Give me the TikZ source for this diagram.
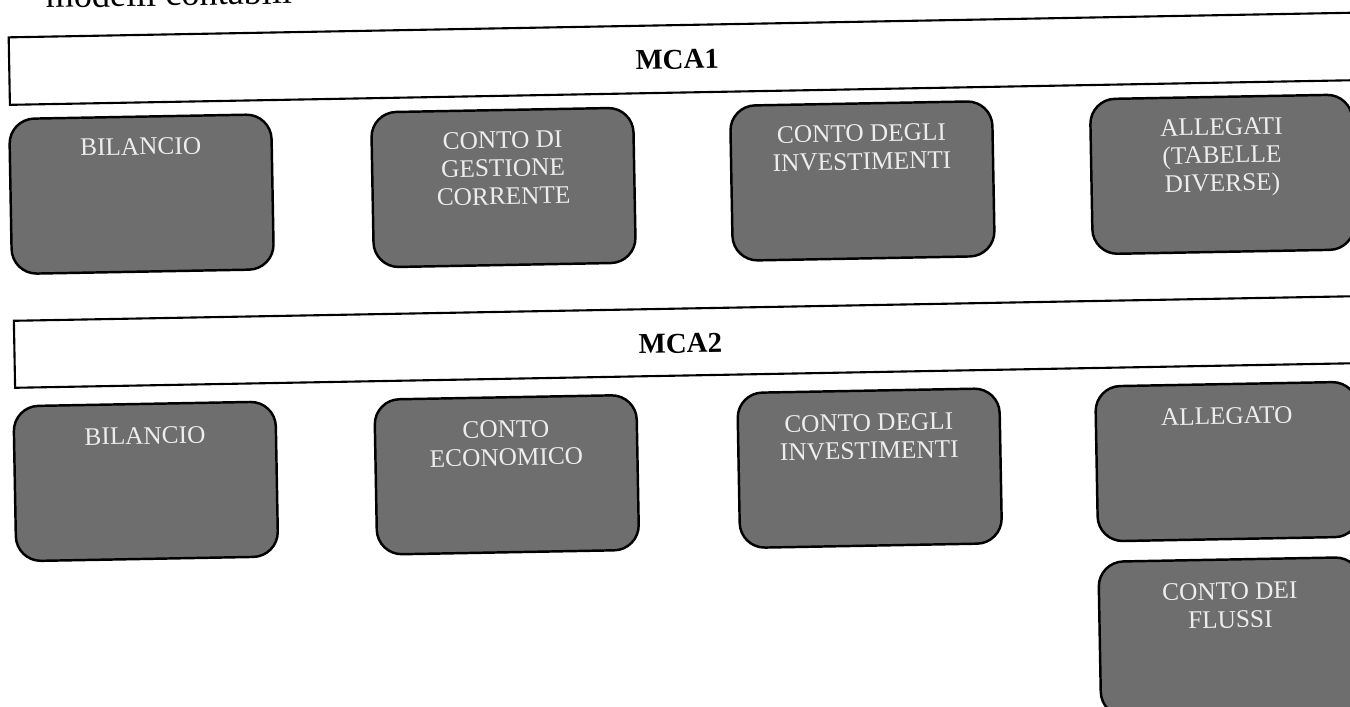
\documentclass[tikz,border=0pt]{standalone}
\usepackage{fontspec}
\setmainfont{Liberation Serif}
\usetikzlibrary{positioning}

\tikzset{
  conto/.style={draw=black, line width=0.7pt, fill=black!57, rounded corners=0.25cm,
    minimum width=2.62cm, minimum height=1.55cm, inner sep=0pt},
  voce/.style={inner sep=0pt, align=center, text=white!93!black,
    font=\fontsize{7.2}{8}\selectfont},
  fascia/.style={draw=black, line width=0.6pt, fill=white},
  titolo/.style={inner sep=0pt, font=\bfseries\fontsize{8.2}{10}\selectfont},
}

\begin{document}
\begin{tikzpicture}
\useasboundingbox (0,0) rectangle (13.5,-7.07);
\clip (0,0) rectangle (13.5,-7.07);
\begin{scope}[rotate=1.05, transform shape]
  \node[anchor=base west, inner sep=0pt, font=\fontsize{10.3}{12}\selectfont] (testa) at (0.45,-0.088) {modelli contabili};
  % MCA1
  \draw[fascia] (0.08,-0.375) rectangle (14.2,-1.05);
  \node[titolo] (mca1) at (6.76,-0.72) {MCA1};
  \node[conto] (bil1) at (1.38,-1.967) {};
  \node[conto] (gest1) at (5.00,-1.967) {};
  \node[conto] (inv1) at (8.59,-1.967) {};
  \node[conto] (all1) at (12.19,-1.967) {};
  \node[voce, below=0.22cm of bil1.north] (tbil1) {BILANCIO};
  \node[voce, below=0.22cm of gest1.north] (tgest1) {CONTO DI\\GESTIONE\\CORRENTE};
  \node[voce, below=0.22cm of inv1.north] (tinv1) {CONTO DEGLI\\INVESTIMENTI};
  \node[voce, below=0.22cm of all1.north] (tall1) {ALLEGATI\\(TABELLE\\DIVERSE)};
  % MCA2
  \draw[fascia] (0.08,-3.21) rectangle (14.2,-3.88);
  \node[titolo] (mca2) at (6.74,-3.56) {MCA2};
  \node[conto] (bil2) at (1.37,-4.84) {};
  \node[conto] (eco2) at (4.98,-4.84) {};
  \node[conto] (inv2) at (8.61,-4.84) {};
  \node[conto] (all2) at (12.19,-4.84) {};
  \node[conto, below=0.18cm of all2] (flu2) {};
  \node[voce, below=0.24cm of bil2.north] (tbil2) {BILANCIO};
  \node[voce, below=0.24cm of eco2.north] (teco2) {CONTO\\ECONOMICO};
  \node[voce, below=0.24cm of inv2.north] (tinv2) {CONTO DEGLI\\INVESTIMENTI};
  \node[voce, below=0.24cm of all2.north] (tall2) {ALLEGATO};
  \node[voce, below=0.24cm of flu2.north] (tflu2) {CONTO DEI\\FLUSSI};
\end{scope}
\end{tikzpicture}
\end{document}
